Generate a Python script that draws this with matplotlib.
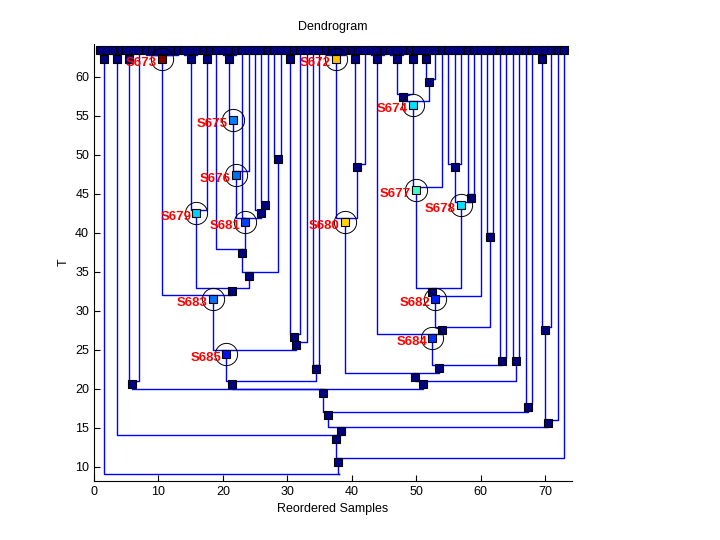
import matplotlib
matplotlib.use("Agg")
import matplotlib.pyplot as plt

plt.rcParams['font.family'] = ['Liberation Sans', 'DejaVu Sans']

# leaves (reordered samples) all sit on the top row
leaf_x = list(range(1, 74))
leaf_t = 63.42

# internal nodes: id, x, T, level of the joining bar, children
node_id = ['p1', 'p3', 'p5', 'S673', 'p15', 'p17', 'p21', 'p30', 'S672', 'p40',
           'p44', 'p47', 'p49', 'p51', 'p69',
           'n28', 'n40b', 'R', 'n58', 'n52', 'n48', 'S674', 'S677', 'S678', 'Q',
           'S682', 'P', 'O', 'S684', 'n63', 'M', 'S680', 'L', 'n65', 'N51',
           'S675', 'S676', 'X1', 'X2', 'S681', 'W', 'V', 'S679', 'U', 'S683',
           'S1', 'S2', 'S685', 'n34', 'B', 'A1', 'C', 'K', 'D', 'I', 'J', 'E',
           'F', 'G', 'ROOT']
node_x = [1.5, 3.5, 5.5, 10.5, 15.0, 17.5, 21.0, 30.5, 37.5, 40.5,
          44.0, 47.0, 49.5, 51.5, 69.5,
          28.5, 40.9, 56.0, 58.5, 52.0, 48.0, 49.5, 49.95, 56.9, 52.4,
          52.95, 61.5, 54.0, 52.5, 63.4, 53.5, 38.9, 49.9, 65.5, 51.0,
          21.5, 22.0, 26.5, 25.95, 23.5, 22.95, 24.0, 15.9, 21.45, 18.46,
          31.0, 31.4, 20.5, 34.5, 21.45, 5.95, 35.5, 67.4, 36.4, 69.95, 70.5, 38.4,
          37.5, 37.95, 38.0]
node_t = [62.27] * 15 + [
          49.45, 48.4, 48.4, 44.5, 59.3, 57.4, 56.4, 45.45, 43.5, 32.4,
          31.5, 39.5, 27.5, 26.5, 23.55, 22.6, 41.4, 21.5, 23.55, 20.56,
          54.4, 47.4, 43.5, 42.5, 41.4, 37.4, 34.45, 42.5, 32.5, 31.5,
          26.6, 25.56, 24.5, 22.56, 20.56, 20.56, 19.5, 17.6, 16.6, 27.5, 15.56, 14.6,
          13.6, 10.6, 9.03]
node_bar = [62.85] * 15 + [
          49.9, 48.85, 48.85, 44.95, 59.75, 57.85, 56.85, 45.85, 43.95, 32.9,
          31.9, 39.95, 27.95, 27.0, 24.0, 23.0, 41.85, 22.0, 24.0, 21.0,
          54.85, 47.9, 43.95, 42.9, 41.85, 37.87, 34.96, 42.95, 32.87, 31.97,
          27.0, 25.95, 24.96, 23.0, 21.0, 21.0, 19.92, 18.05, 17.0, 27.95, 16.0, 15.05,
          14.06, 11.15, 9.03]
node_kids = [[1, 2], [3, 4], [5, 6], [8, 9, 10, 11, 12, 13], [14, 15, 16], [17, 18],
             [20, 21, 22], [30, 31], [36, 37, 38, 39], [40, 41],
             [43, 44, 45], [46, 47, 48], [49, 50], [51, 52], [69, 70],
             [28, 29], ['p40', 42], [55, 56, 57], [58, 59], ['p51', 53], ['p47', 'p49'],
             ['n48', 'n52'], ['S674', 54], ['R', 'n58'], ['S677', 'S678'],
             ['Q', 60], [61, 62], ['S682', 'P'], ['p44', 'O'], [63, 64], ['S684', 'n63'],
             ['S672', 'n40b'], ['S680', 'M'], [65, 66], ['L', 'n65'],
             ['p21'], ['S675', 24], [26, 27], [25, 'X1'], ['S676', 23, 'X2'],
             [19, 'S681'], ['W', 'n28'], ['p15', 'p17'], ['S679', 'V'], ['S673', 'U'],
             ['p30', 32], ['S1', 33], ['S683', 'S2'], [34, 35], ['S685', 'n34'],
             ['p5', 7], ['A1', 'B', 'N51'], [67, 68], ['C', 'K'], ['p69', 71],
             ['I', 72], ['D', 'J'], ['p3', 'E'], ['F', 73], ['p1', 'G']]

# the root's own marker falls below the visible range
hidden = ['ROOT']

# highlighted clusters and their colours
label_names = ['S672', 'S673', 'S674', 'S675', 'S676', 'S677', 'S678',
               'S679', 'S680', 'S681', 'S682', 'S683', 'S684', 'S685']
label_colors = ['#ffbf00', '#800000', '#00e0ff', '#0080ff', '#0070f0', '#40ffc8',
                '#00e0ff', '#00d0ff', '#ffd700', '#0040ff', '#0020ff', '#0070ff',
                '#0030ff', '#0010ff']

navy = '#000080'

pos = {}
for i, x in enumerate(leaf_x):
    pos[i + 1] = (x, leaf_t)
for i, n in enumerate(node_id):
    pos[n] = (node_x[i], node_t[i])

fig = plt.figure(figsize=(7.2, 5.4), dpi=100)
ax = fig.add_axes([94 / 720, 59 / 540, 478 / 720, 437 / 540])

for i, n in enumerate(node_id):
    xp, tp = node_x[i], node_t[i]
    lv = node_bar[i]
    for k in node_kids[i]:
        xc, tc = pos[k]
        ax.plot([xc, xc, xp, xp], [tc, lv, lv, tp], color='b', lw=1.0, zorder=1)

ax.plot(leaf_x, [leaf_t] * len(leaf_x), 's', ms=5.6, mfc=navy, mec='k', mew=0.8, zorder=3)

col = dict(zip(label_names, label_colors))
for i, n in enumerate(node_id):
    if n in hidden:
        continue
    c = col.get(n, navy)
    ax.plot(node_x[i], node_t[i], 's', ms=6.0, mfc=c, mec='k', mew=0.8, zorder=4)

for n in label_names:
    x, t = pos[n]
    ax.plot(x, t, 'o', ms=16, mfc='none', mec='k', mew=0.7, zorder=5)
    ax.annotate(n, (x, t), xytext=(-5, -4), textcoords='offset pixels',
                ha='right', va='center', color='red', fontsize=9.5,
                fontweight='bold', zorder=6)

ax.set_xlim(0, 74.2)
ax.set_ylim(8.17, 64.2)
ax.set_xticks(range(0, 71, 10))
ax.set_yticks(range(10, 61, 5))
ax.spines['top'].set_visible(False)
ax.spines['right'].set_visible(False)
ax.tick_params(direction='in', length=4, labelsize=9)
ax.set_title("Dendrogram", fontsize=9, pad=10)
ax.set_xlabel("Reordered Samples", fontsize=9)
ax.set_ylabel("T", fontsize=9)

fig.savefig("out.png", dpi=100)
